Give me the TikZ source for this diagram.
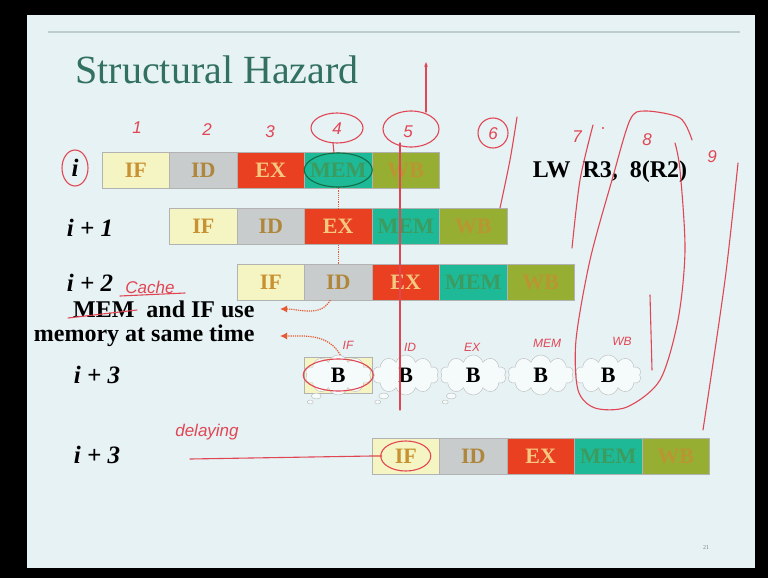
\documentclass[tikz,border=0pt]{standalone}
\usepackage{fontspec}
\setmainfont{Liberation Serif}
\setsansfont{Liberation Sans}
\usepackage{xcolor}
\usetikzlibrary{shapes.symbols,arrows.meta}

\definecolor{slidebg}{RGB}{230,242,244}
\definecolor{rulecol}{RGB}{190,205,208}
\definecolor{titlecol}{RGB}{50,112,95}
\definecolor{iffill}{RGB}{245,245,195}
\definecolor{iftext}{RGB}{200,145,50}
\definecolor{idfill}{RGB}{200,204,204}
\definecolor{idtext}{RGB}{175,135,60}
\definecolor{exfill}{RGB}{232,64,32}
\definecolor{extext}{RGB}{245,200,130}
\definecolor{memfill}{RGB}{30,185,150}
\definecolor{memtext}{RGB}{60,155,95}
\definecolor{wbfill}{RGB}{150,175,50}
\definecolor{wbtext}{RGB}{185,150,50}
\definecolor{penred}{RGB}{225,70,85}
\definecolor{pengreen}{RGB}{20,110,70}
\definecolor{dotred}{RGB}{230,90,50}

\begin{document}
\begin{tikzpicture}[x=1pt, y=-1pt,
    stage/.style={draw=gray!60, rectangle, minimum width=67.5pt, minimum height=36pt, inner sep=0pt, font=\bfseries\fontsize{22}{22}\selectfont},
    ifbox/.style={fill=iffill, text=iftext},
    idbox/.style={fill=idfill, text=idtext},
    exbox/.style={fill=exfill, text=extext},
    membox/.style={fill=memfill, text=memtext},
    wbbox/.style={fill=wbfill, text=wbtext},
    bubble/.style={cloud, cloud puffs=10, cloud ignores aspect, draw=gray!55, fill=white!60!slidebg, minimum width=66pt, minimum height=40pt, inner sep=0pt, font=\bfseries\fontsize{22}{22}\selectfont},
    rowlabel/.style={font=\bfseries\itshape\fontsize{25}{25}\selectfont},
    note/.style={anchor=east, font=\bfseries\fontsize{24}{24}\selectfont},
    hand/.style={text=penred, font=\sffamily\itshape\fontsize{17}{17}\selectfont},
    smallhand/.style={hand, font=\sffamily\itshape\fontsize{12}{12}\selectfont},
    pen/.style={draw=penred, line width=1.1pt, line cap=round},
    dotline/.style={draw=dotred, densely dotted, line width=1.2pt},
    dotarrow/.style={dotline, -{Latex[length=7pt,width=7pt]}}
  ]
    % Slide
    \fill[black] (0,0) rectangle (768,578);
    \fill[slidebg] (27,15) rectangle (755,568);
    \useasboundingbox (0,0) rectangle (768,578);
    \draw[rulecol, line width=1.5pt] (48,32) -- (740,32);
    \node[anchor=base west, text=titlecol, font=\fontsize{40}{40}\selectfont] (title) at (72,83) {Structural Hazard};

    % Row labels
    \node[rowlabel] (li) at (75,168) {i};
    \node[rowlabel] (li1) at (90,228) {i + 1};
    \node[rowlabel] (li2) at (90,283) {i + 2};
    \node[rowlabel] (li3) at (97,375) {i + 3};
    \node[rowlabel] (li4) at (97,455) {i + 3};

    % Pipeline stages
    \foreach \lbl/\sty [count=\k] in {IF/ifbox,ID/idbox,EX/exbox,MEM/membox,WB/wbbox} {
      \node[stage, \sty] (a\k) at ({68.25+67.5*\k},170) {\lbl};
      \node[stage, \sty] (b\k) at ({135.75+67.5*\k},226.5) {\lbl};
      \node[stage, \sty] (c\k) at ({203.25+67.5*\k},282) {\lbl};
      \node[stage, \sty] (e\k) at ({338.25+67.5*\k},456) {\lbl};
    }

    % Bubbles
    \node[stage, ifbox] (d0) at (338.25,375) {};
    \foreach \k in {1,...,5}
      \node[bubble] (d\k) at ({270.75+67.5*\k},375) {B};
    \foreach \k in {1,2,3} {
      \draw[gray!55, fill=white!60!slidebg] ([shift={(-22,21)}]d\k.center) ellipse [x radius=5, y radius=3];
      \draw[gray!55, fill=white!60!slidebg] ([shift={(-28,27)}]d\k.center) ellipse [x radius=3, y radius=2];
    }

    % Notes
    \node[note] (note1) at (258,309) {MEM\ \ and IF use};
    \node[note] (note2) at (258,336) {memory at same time};
    \node[font=\bfseries\fontsize{24}{24}\selectfont] (instr) at (610,172) {LW\ \ R3,\ \ 8(R2)};
    \node[text=gray, font=\fontsize{6}{6}\selectfont] (pgno) at (706,548) {21};

    % Arrows
    \draw[dotline] (a4.south) -- (b3.north);
    \draw[dotline] (b3.south) -- (c2.north);
    \draw[dotarrow] ([xshift=-8pt]c2.south) to[out=-120, in=0] ([xshift=22pt]note1.east);
    \draw[dotarrow] ([xshift=2pt]d1.north) to[out=120, in=0] ([xshift=22pt]note2.east);

    % Pen notes
    \node[hand] at (137,128) {1};
    \node[hand] at (207,130) {2};
    \node[hand] at (270,132) {3};
    \node[hand] at (337,129) {4};
    \node[hand] at (408,132) {5};
    \node[hand] at (493,134) {6};
    \node[hand] at (577,137) {7};
    \node[hand] at (647,140) {8};
    \node[hand] at (712,157) {9};
    \node[hand] at (150,287) {Cache};
    \node[hand] at (207,432) {delaying};
    \node[smallhand] at (348,345) {IF};
    \node[smallhand] at (410,347) {ID};
    \node[smallhand] at (472,347) {EX};
    \node[smallhand] at (547,343) {MEM};
    \node[smallhand] at (622,341) {WB};

    \draw[pen] (li) ellipse [x radius=13, y radius=18];
    \draw[pen] (337,128) ellipse [x radius=26, y radius=15];
    \draw[pen] (333,143) -- (334,153);
    \draw[pen] (411,129) ellipse [x radius=28, y radius=18];
    \draw[pen, -{Stealth[length=5pt]}] (426,112) -- (426,62);
    \draw[pen] (400,143) -- (400,410);
    \draw[pen] (493,133) ellipse [x radius=15, y radius=15];
    \draw[pen] plot[smooth] coordinates {(517,117) (510,160) (500,208)};
    \draw[pen] plot[smooth] coordinates {(593,125) (580,180) (572,248)};
    \fill[penred] (603,128) circle [radius=1.2];
    \draw[pen] plot[smooth] coordinates {(692,140) (680,118) (645,111) (630,120) (612,180) (590,260) (576,340) (578,390) (595,408) (627,407) (660,380) (678,320) (685,250) (680,170) (675,143)};
    \draw[pen] (650,295) -- (652,370);
    \draw[pen] plot[smooth] coordinates {(738,163) (725,280) (703,430)};
    \draw[pen] (120,296) -- (185,293);
    \draw[pen] (68,318) -- (137,310);
    \draw[pen] (d1) ellipse [x radius=35, y radius=16];
    \draw[pengreen, line width=1.1pt] (a4) ellipse [x radius=34, y radius=17];
    \draw[pen] (190,459) -- (e1.west) -- ([xshift=10pt]e1.west);
    \draw[pen] (e1) ellipse [x radius=25, y radius=15];
  \end{tikzpicture}
\end{document}
